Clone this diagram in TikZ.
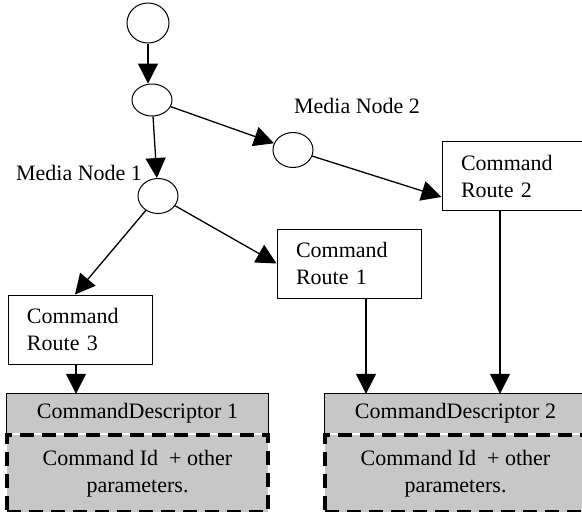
\documentclass[tikz,border=0pt]{standalone}
\usepackage{fontspec}
\setmainfont{Liberation Serif}
\usetikzlibrary{arrows.meta,shapes.geometric}
\definecolor{descgray}{gray}{0.78}
\begin{document}
\begin{tikzpicture}[x=1pt,y=-1pt,
  font=\fontsize{22}{27}\selectfont,
  medianode/.style={draw,ellipse,line width=1pt,inner sep=0pt,minimum width=40pt,minimum height=35pt},
  routebox/.style={draw,line width=1pt,rectangle,text width=106pt,inner xsep=19pt,inner ysep=0pt,minimum height=69pt,align=left},
  flow/.style={line width=1.3pt,-{Triangle[length=20pt,width=20pt]}},
  deschead/.style={fill=descgray,minimum width=261pt,minimum height=39pt,inner sep=0pt},
  descbody/.style={fill=descgray,draw,line width=3.5pt,dash pattern=on 14pt off 8pt,minimum width=261pt,minimum height=77pt,inner sep=0pt,align=center},
]
\clip (0,0) rectangle (582,512);

% media graph
\node[medianode,minimum width=42pt,minimum height=40pt] (top) at (148,23) {};
\node[medianode,minimum height=32pt] (split) at (152,100) {};
\node[medianode] (m1) at (158,196) {};
\node[medianode] (m2) at (293,150) {};
\node (m1lbl) at (79,173) {Media Node 1};
\node (m2lbl) at (357,106) {Media Node 2};

% command routes
\node[routebox] (r3) at (80,329.5) {Command\\Route 3};
\node[routebox] (r1) at (349,263.5) {Command\\Route 1};
\node[routebox] (r2) at (514,176) {Command\\Route 2};

% command descriptors
\node[deschead] (d1) at (137.5,413.5) {CommandDescriptor 1};
\node[descbody,anchor=north] (d1p) at (d1.south) {Command Id~ + other\\parameters.};
\draw[line width=1pt] (d1.south west) |- (d1.north east) -- (d1.south east);

\node[deschead] (d2) at (455.5,413.5) {CommandDescriptor 2};
\node[descbody,anchor=north] (d2p) at (d2.south) {Command Id~ + other\\parameters.};
\draw[line width=1pt] (d2.south west) |- (d2.north east) -- (d2.south east);

% connectors
\draw[flow] (top.south) -- (top.south |- split.north);
\draw[flow] (split) -- (m1);
\draw[flow] (split) -- (m2);
\draw[flow] (m2) -- ([yshift=-21pt]r2.west);
\draw[flow] (m1) -- ([xshift=-5pt]r3.north);
\draw[flow] (m1) -- (r1.west);
\draw[flow] ([xshift=-4pt]r3.south) -- ([xshift=-4pt]r3.south |- d1.north);
\draw[flow] ([xshift=17pt]r1.south) -- ([xshift=17pt]r1.south |- d2.north);
\draw[flow] ([xshift=-14pt]r2.south) -- ([xshift=-14pt]r2.south |- d2.north);
\end{tikzpicture}
\end{document}
